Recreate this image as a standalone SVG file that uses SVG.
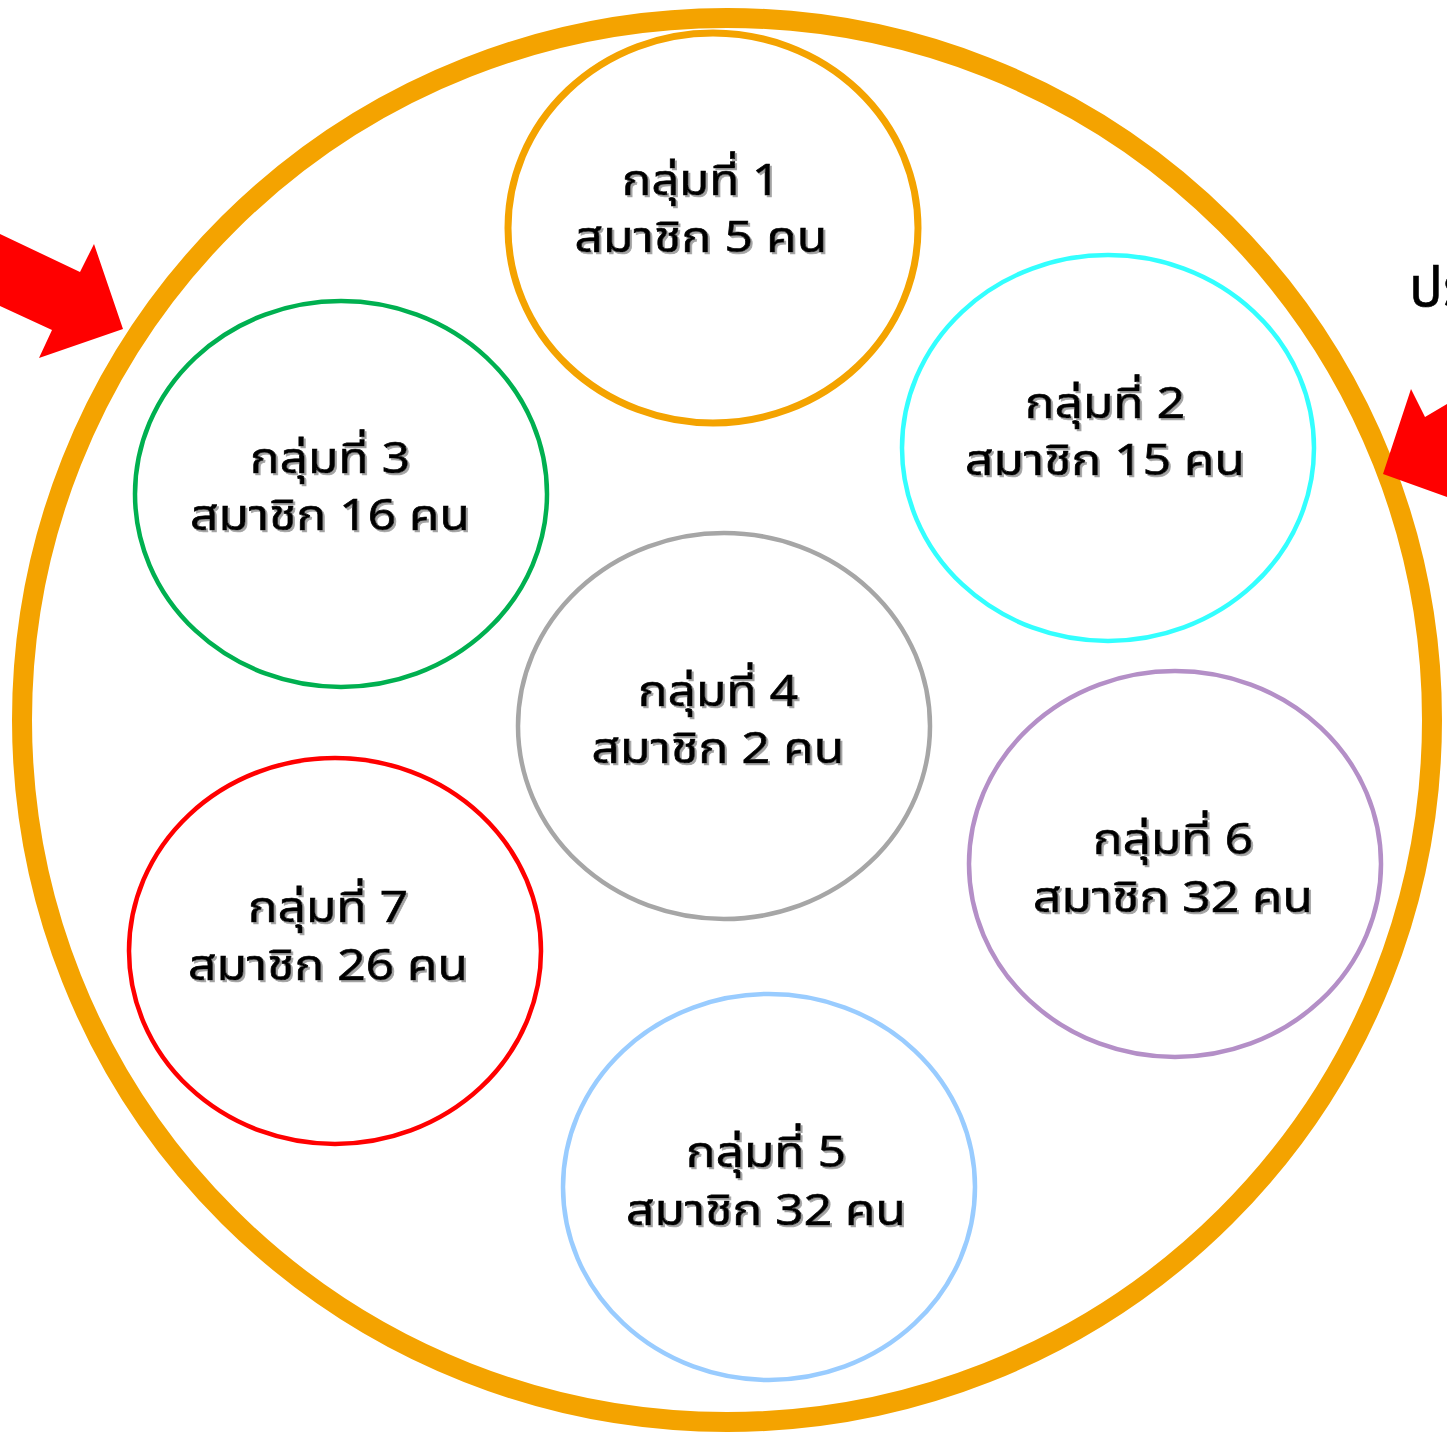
<svg xmlns="http://www.w3.org/2000/svg" width="1447" height="1440" viewBox="0 0 1447 1440">
<defs>
<filter id="sh" x="-10%" y="-10%" width="130%" height="140%">
<feDropShadow dx="2" dy="2" stdDeviation="0.6" flood-color="#8c8c8c" flood-opacity="0.8"/>
</filter>
</defs>
<style>
.g{fill:#fff}
.t{font-family:"Noto Sans Thai","Noto Sans","DejaVu Sans",sans-serif;font-size:43px;fill:#000;stroke:#000;stroke-width:0.7;text-anchor:middle;filter:url(#sh)}
.arrow{fill:#ff0000}
</style>
<rect width="1447" height="1440" fill="#fff"/>
<g id="outer"><ellipse cx="727" cy="720" rx="705" ry="702" fill="none" stroke="#f4a300" stroke-width="20"/></g>
<g id="arrows">
<polygon class="arrow" points="0,234 80,272 94,244 123,329 39,358 52,330 0,306"/>
<polygon class="arrow" points="1411,389 1425,417 1447,404 1447,497 1383,474"/>
</g>
<text x="1409" y="306" font-family="Noto Sans Thai, Noto Sans, DejaVu Sans, sans-serif" font-size="56" stroke="#000" stroke-width="0.6">ปร</text>
<g id="group1"><ellipse class="g" cx="713" cy="228" rx="205" ry="195" stroke="#f4a300" stroke-width="7"/>
<text class="t" x="701" y="195" textLength="158" lengthAdjust="spacingAndGlyphs">กลุ่มที่ 1</text><text class="t" x="701" y="252" textLength="253" lengthAdjust="spacingAndGlyphs">สมาชิก 5 คน</text></g>
<g id="group2"><ellipse class="g" cx="1108" cy="448" rx="206" ry="193" stroke="#33ffff" stroke-width="4.5"/>
<text class="t" x="1105" y="418" textLength="160" lengthAdjust="spacingAndGlyphs">กลุ่มที่ 2</text><text class="t" x="1105" y="475" textLength="280" lengthAdjust="spacingAndGlyphs">สมาชิก 15 คน</text></g>
<g id="group3"><ellipse class="g" cx="341" cy="494" rx="206" ry="193" stroke="#00b050" stroke-width="4.5"/>
<text class="t" x="330" y="473" textLength="160" lengthAdjust="spacingAndGlyphs">กลุ่มที่ 3</text><text class="t" x="330" y="530" textLength="280" lengthAdjust="spacingAndGlyphs">สมาชิก 16 คน</text></g>
<g id="group4"><ellipse class="g" cx="724" cy="726" rx="206" ry="193" stroke="#a6a6a6" stroke-width="4.5"/>
<text class="t" x="718" y="706" textLength="160" lengthAdjust="spacingAndGlyphs">กลุ่มที่ 4</text><text class="t" x="718" y="763" textLength="253" lengthAdjust="spacingAndGlyphs">สมาชิก 2 คน</text></g>
<g id="group5"><ellipse class="g" cx="769" cy="1187" rx="206" ry="193" stroke="#99ccff" stroke-width="4.5"/>
<text class="t" x="766" y="1167" textLength="160" lengthAdjust="spacingAndGlyphs">กลุ่มที่ 5</text><text class="t" x="766" y="1225" textLength="280" lengthAdjust="spacingAndGlyphs">สมาชิก 32 คน</text></g>
<g id="group6"><ellipse class="g" cx="1175" cy="864" rx="206" ry="193" stroke="#b48fc7" stroke-width="4.5"/>
<text class="t" x="1173" y="854" textLength="160" lengthAdjust="spacingAndGlyphs">กลุ่มที่ 6</text><text class="t" x="1173" y="912" textLength="280" lengthAdjust="spacingAndGlyphs">สมาชิก 32 คน</text></g>
<g id="group7"><ellipse class="g" cx="335" cy="951" rx="206" ry="193" stroke="#ff0000" stroke-width="4.5"/>
<text class="t" x="328" y="922" textLength="160" lengthAdjust="spacingAndGlyphs">กลุ่มที่ 7</text><text class="t" x="328" y="980" textLength="280" lengthAdjust="spacingAndGlyphs">สมาชิก 26 คน</text></g>
</svg>
